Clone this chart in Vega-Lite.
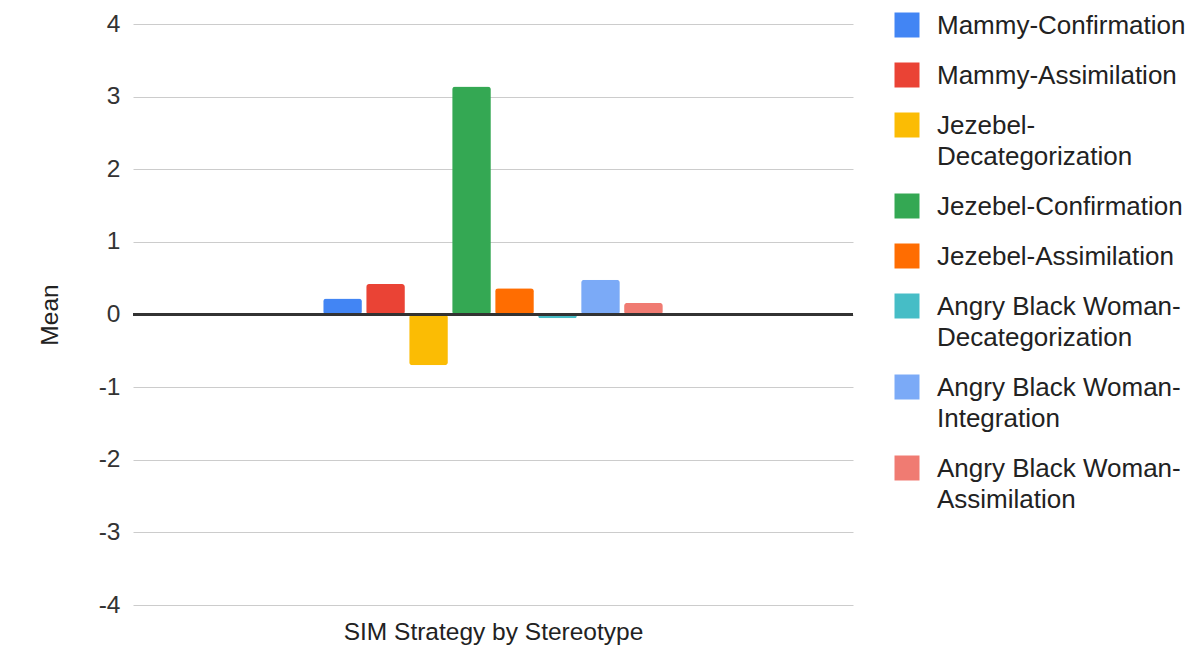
{
  "$schema": "https://vega.github.io/schema/vega-lite/v6.json",
  "autosize": "none",
  "width": 720,
  "height": 581,
  "padding": {"left": 133, "top": 24, "right": 343, "bottom": 40},
  "background": "white",
  "config": {
    "font": "Liberation Sans",
    "view": {"stroke": null}
  },
  "data": {
    "values": [
      {"group": "SIM Strategy by Stereotype", "series": "Mammy-Confirmation", "mean": 0.22},
      {"group": "SIM Strategy by Stereotype", "series": "Mammy-Assimilation", "mean": 0.42},
      {"group": "SIM Strategy by Stereotype", "series": "Jezebel-Decategorization", "mean": -0.70},
      {"group": "SIM Strategy by Stereotype", "series": "Jezebel-Confirmation", "mean": 3.14},
      {"group": "SIM Strategy by Stereotype", "series": "Jezebel-Assimilation", "mean": 0.36},
      {"group": "SIM Strategy by Stereotype", "series": "Angry Black Woman-Decategorization", "mean": -0.05},
      {"group": "SIM Strategy by Stereotype", "series": "Angry Black Woman-Integration", "mean": 0.48},
      {"group": "SIM Strategy by Stereotype", "series": "Angry Black Woman-Assimilation", "mean": 0.16}
    ]
  },
  "layer": [
    {
      "mark": {"type": "bar", "cornerRadius": 3},
      "encoding": {
        "x": {
          "field": "group",
          "type": "nominal",
          "scale": {"paddingInner": 0, "paddingOuter": 0.56},
          "axis": {
            "title": "SIM Strategy by Stereotype",
            "titleFontSize": 24.5,
            "titleFontWeight": "normal",
            "titleColor": "#222",
            "titlePadding": 15,
            "labels": false,
            "ticks": false,
            "domain": false,
            "grid": false
          }
        },
        "xOffset": {
          "field": "series",
          "type": "nominal",
          "sort": null,
          "scale": {"paddingInner": 0.1, "paddingOuter": 0}
        },
        "y": {
          "field": "mean",
          "type": "quantitative",
          "scale": {"domain": [-4, 4], "nice": false, "zero": false},
          "axis": {
            "title": "Mean",
            "titleFontSize": 24.5,
            "titleFontWeight": "normal",
            "titleColor": "#222",
            "titlePadding": 36,
            "values": [-4, -3, -2, -1, 0, 1, 2, 3, 4],
            "labelExpr": "datum.value < 0 ? '-' + abs(datum.value) : '' + datum.value",
            "labelFontSize": 24.5,
            "labelColor": "#333",
            "labelPadding": 13,
            "ticks": false,
            "domain": false,
            "gridColor": "#cccccc",
            "gridWidth": 1
          }
        },
        "color": {
          "field": "series",
          "type": "nominal",
          "sort": null,
          "scale": {
            "domain": [
              "Mammy-Confirmation",
              "Mammy-Assimilation",
              "Jezebel-Decategorization",
              "Jezebel-Confirmation",
              "Jezebel-Assimilation",
              "Angry Black Woman-Decategorization",
              "Angry Black Woman-Integration",
              "Angry Black Woman-Assimilation"
            ],
            "range": ["#4285F4", "#EA4335", "#FBBC04", "#34A853", "#FF6D01", "#46BDC6", "#7BAAF7", "#F07B72"]
          },
          "legend": {
            "title": null,
            "orient": "none",
            "legendX": 761,
            "legendY": -12,
            "symbolType": "square",
            "symbolSize": 625,
            "symbolStrokeWidth": 0,
            "labelFontSize": 26,
            "labelColor": "#222",
            "labelOffset": 17,
            "labelLimit": 400,
            "labelBaseline": "alphabetic",
            "rowPadding": 23,
            "labelExpr": "datum.label == 'Jezebel-Decategorization' ? ['Jezebel-', 'Decategorization'] : datum.label == 'Angry Black Woman-Decategorization' ? ['Angry Black Woman-', 'Decategorization'] : datum.label == 'Angry Black Woman-Integration' ? ['Angry Black Woman-', 'Integration'] : datum.label == 'Angry Black Woman-Assimilation' ? ['Angry Black Woman-', 'Assimilation'] : datum.label",
            "encode": {
              "labels": {"update": {"dy": {"value": 9}, "lineHeight": {"value": 31}}}
            }
          }
        }
      }
    },
    {
      "mark": {"type": "rule", "color": "#333333", "strokeWidth": 2},
      "encoding": {"y": {"datum": 0}}
    }
  ]
}
